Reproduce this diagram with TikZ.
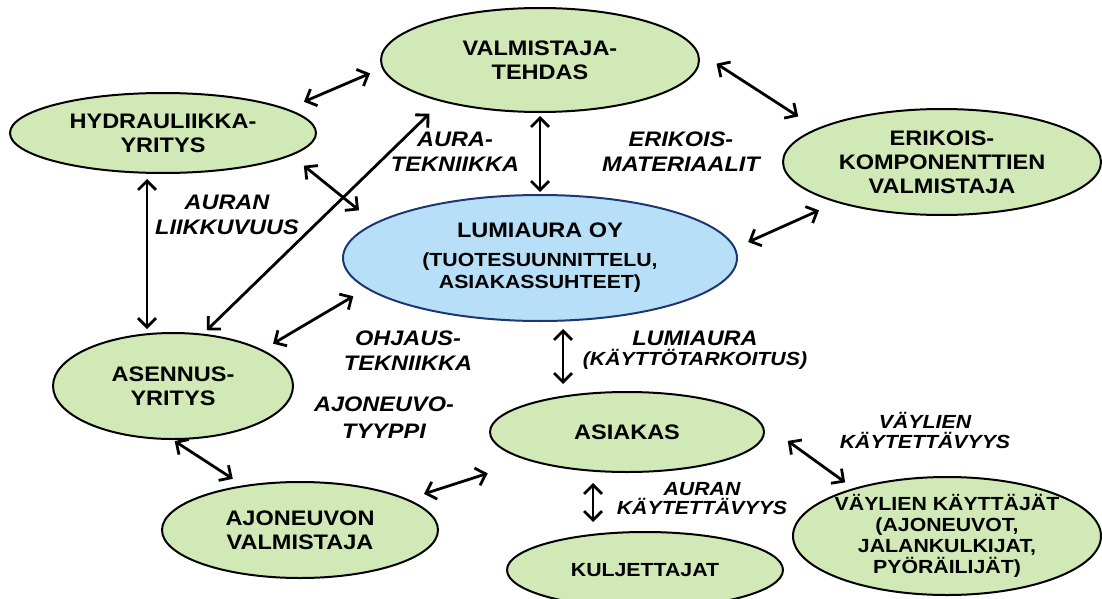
\documentclass[tikz,border=0pt]{standalone}
\usepackage{fontspec}
\setmainfont{Liberation Sans}[FakeStretch=1.12]
\usetikzlibrary{shapes.geometric,arrows.meta}
\definecolor{partygreen}{RGB}{208,233,182}
\definecolor{hubblue}{RGB}{183,224,248}
\definecolor{hubborder}{RGB}{30,55,115}
\newcommand{\tightlines}{\lineskiplimit=-10pt\relax}
\newcommand{\smallline}{\fontsize{9.5}{9}\selectfont}

\begin{document}
\begin{tikzpicture}[x=0.5pt,y=-0.5pt,
    party/.style={ellipse,draw=black,line width=1pt,fill=partygreen,inner sep=-4pt,align=center,
        font=\fontsize{10.5}{12}\selectfont\bfseries\tightlines},
    relation/.style={align=center,font=\fontsize{10.5}{12.5}\selectfont\bfseries\itshape\tightlines},
    smallrelation/.style={align=center,font=\fontsize{9.5}{9.5}\selectfont\bfseries\itshape\tightlines},
    link/.style={{Straight Barb[length=4.5pt,width=9pt]}-{Straight Barb[length=4.5pt,width=9pt]},line width=1.4pt}]

    \useasboundingbox (0,0) rectangle (1102,599);

    \node[party,minimum width=159pt,minimum height=52pt] (valmistaja) at (540,60) {VALMISTAJA-\\TEHDAS};
    \node[party,minimum width=153pt,minimum height=40pt] (hydrauliikka) at (163,133) {HYDRAULIIKKA-\\YRITYS};
    \node[party,minimum width=159pt,minimum height=53pt] (erikois) at (942,162) {ERIKOIS-\\KOMPONENTTIEN\\VALMISTAJA};
    \node[party,minimum width=197pt,minimum height=63pt,fill=hubblue,draw=hubborder] (lumiaura) at (540,258)
        {LUMIAURA OY\\[2.5pt]\smallline(TUOTESUUNNITTELU,\\[-1pt]\smallline ASIAKASSUHTEET)};
    \node[party,minimum width=120pt,minimum height=53pt] (asennus) at (173,386) {ASENNUS-\\YRITYS};
    \node[party,minimum width=137pt,minimum height=40pt] (asiakas) at (627,432) {ASIAKAS};
    \node[party,minimum width=138pt,minimum height=48pt] (ajoneuvo) at (300,530) {AJONEUVON\\VALMISTAJA};
    \node[party,minimum width=138pt,minimum height=38pt,font=\fontsize{9.5}{10.5}\selectfont\bfseries] (kuljettajat) at (645,570) {KULJETTAJAT};
    \node[party,minimum width=154pt,minimum height=59pt,font=\fontsize{9.5}{10.5}\selectfont\bfseries] (vaylat) at (947,536)
        {VÄYLIEN KÄYTTÄJÄT\\(AJONEUVOT,\\JALANKULKIJAT,\\PYÖRÄILIJÄT)};

    \draw[link,shorten <=9pt,shorten >=6.5pt] (hydrauliikka.11) -- (valmistaja.183);
    \draw[link,shorten <=1.5pt,shorten >=1pt] (valmistaja.south) -- (lumiaura.north);
    \draw[link,shorten <=11pt,shorten >=11pt] (valmistaja.3) -- (erikois.165);
    \draw[link,shorten <=8pt,shorten >=10pt] (hydrauliikka.-10) -- (lumiaura.168);
    \draw[link,shorten <=2.5pt,shorten >=1.5pt] ([xshift=-8pt]hydrauliikka.south) -- ([xshift=-8pt]hydrauliikka.south |- asennus.north);
    \draw[link,shorten <=2.5pt,shorten >=8.5pt] (asennus.60) -- (valmistaja.203);
    \draw[link,shorten <=6pt,shorten >=7.5pt] (asennus.22) -- (lumiaura.190);
    \draw[link,shorten <=9.5pt,shorten >=7pt] (erikois.201) -- (lumiaura.3);
    \draw[link,shorten <=3.5pt,shorten >=3.5pt] ([xshift=11.5pt]lumiaura.south) -- ([xshift=11.5pt]lumiaura.south |- asiakas.north);
    \draw[link,shorten <=1pt,shorten >=6pt] (asennus.south) -- (ajoneuvo.142);
    \draw[link,shorten <=8.5pt,shorten >=21pt] (ajoneuvo.16) -- (asiakas.196);
    \draw[link,shorten <=5pt,shorten >=4.5pt] ([xshift=-17pt]asiakas.south) -- ([xshift=-17pt]asiakas.south |- kuljettajat.north);
    \draw[link,shorten <=17.5pt,shorten >=5pt] (asiakas.5) -- (vaylat.153);

    \node[relation] (auratekniikka) at (455,152) {AURA-\\TEKNIIKKA};
    \node[relation] (materiaalit) at (681,152) {ERIKOIS-\\MATERIAALIT};
    \node[relation] (liikkuvuus) at (227,215) {AURAN\\LIIKKUVUUS};
    \node[relation] (ohjaus) at (408,351) {OHJAUS-\\TEKNIIKKA};
    \node[relation,font=\fontsize{10.5}{13.5}\selectfont\bfseries\itshape] (tyyppi) at (384,418) {AJONEUVO-\\TYYPPI};
    \node[relation] (kayttotarkoitus) at (695,350) {LUMIAURA\\[-2.5pt]\fontsize{9.5}{8.5}\selectfont(KÄYTTÖTARKOITUS)};
    \node[smallrelation,font=\fontsize{9.5}{10}\selectfont\bfseries\itshape] (vaylakaytto) at (925,430) {VÄYLIEN\\KÄYTETTÄVYYS};
    \node[smallrelation] (aurakaytto) at (702,499) {AURAN\\KÄYTETTÄVYYS};

\end{tikzpicture}
\end{document}
